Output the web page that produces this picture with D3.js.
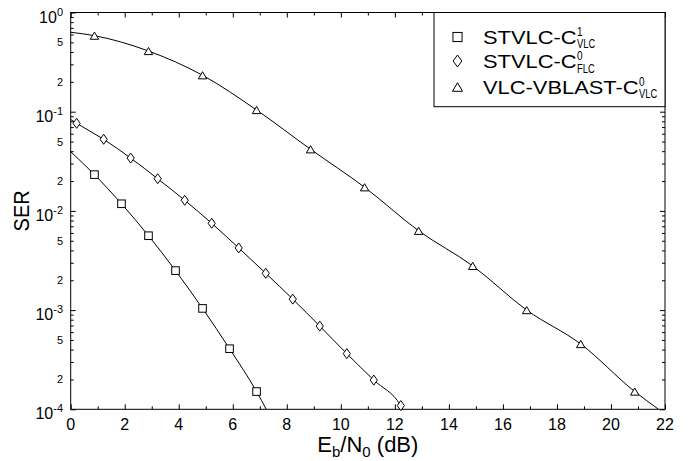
<!DOCTYPE html>
<html><head><meta charset="utf-8">
<script src="https://cdn.jsdelivr.net/npm/d3@7"></script>
<style>
body{margin:0;background:#fff}
svg{display:block}
text{font-family:"Liberation Sans",Arial,Helvetica,sans-serif;fill:#000}
</style>
</head><body>
<svg id="c" width="697" height="461"></svg>
<script>
// ---------------- data ----------------
const seriesNames = ["STVLC-C", "STVLC-C", "VLC-VBLAST-C"];
const seriesSup   = ["1", "0", "0"];
const seriesSub   = ["VLC", "FLC", "VLC"];
const seriesShape = ["square", "diamond", "triangle"];

// STVLC-C^1_VLC (squares)
const sqX = [0.88, 1.88, 2.88, 3.88, 4.88, 5.88, 6.88];
const sqY = [0.0232, 0.0118, 0.00562, 0.00250, 0.00104, 0.000408, 0.000151];
const sqStart = [0, 0.0395];
const sqEnd   = [7.24, 0.0001];

// STVLC-C^0_FLC (diamonds)
const dmX = [0.22, 1.22, 2.22, 3.22, 4.22, 5.22, 6.22, 7.22, 8.22, 9.22, 10.22, 11.22, 12.22];
const dmY = [0.0764, 0.0527, 0.0341, 0.0211, 0.0128, 0.0075, 0.00423, 0.00235, 0.00129, 0.00069, 0.000364, 0.000197, 0.000109];
const dmStart = [0, 0.0835];
const dmEnd   = [12.3, 0.0001];

// VLC-VBLAST-C^0_VLC (triangles)
const trX = [0.88, 2.88, 4.88, 6.88, 8.88, 10.88, 12.88, 14.88, 16.88, 18.88, 20.88];
const trY = [0.584, 0.409, 0.233, 0.104, 0.0418, 0.0173, 0.0063, 0.00279, 0.00100, 0.000455, 0.000151];
const trStart = [0, 0.632];
const trEnd   = [21.76, 0.0001];

const xTicks = [0, 2, 4, 6, 8, 10, 12, 14, 16, 18, 20, 22];
const xMinorTicks = [1, 3, 5, 7, 9, 11, 13, 15, 17, 19, 21];
const yDecades = [0, -1, -2, -3, -4];
const yMinorMult = [2, 3, 4, 5, 6, 7, 8, 9];
const yMinorLabels = [2, 5];
const xTitle = ["E", "b", "/N", "0", " (dB)"];
const yTitle = "SER";

// ---------------- layout ----------------
const L = 70.7, R = 665, T = 12.5, B = 409.3;
const svg = d3.select("#c");
const x = d3.scaleLinear().domain([0, 22]).range([L, R]);
const y = d3.scaleLog().domain([1e-4, 1]).range([B, T]);

const series = [
  {x: sqX, y: sqY, s: sqStart, e: sqEnd},
  {x: dmX, y: dmY, s: dmStart, e: dmEnd},
  {x: trX, y: trY, s: trStart, e: trEnd}
];

// clip
svg.append("defs").append("clipPath").attr("id", "pc")
  .append("rect").attr("x", L).attr("y", T).attr("width", R - L).attr("height", B - T);

// ticks (inward, mirrored)
const yMinorVals = [];
yDecades.slice(1).forEach(d => yMinorMult.forEach(m => yMinorVals.push(m * Math.pow(10, d))));
const yMajorVals = yDecades.map(d => Math.pow(10, d));

function styleAxis(g) {
  g.select(".domain").remove();
  g.selectAll("line").attr("stroke", "#000").attr("stroke-width", 1);
  g.selectAll("text").remove();
}
svg.append("g").attr("transform", `translate(${L},0)`).call(d3.axisLeft(y).tickValues(yMajorVals).tickSize(-5)).call(styleAxis);
svg.append("g").attr("transform", `translate(${L},0)`).call(d3.axisLeft(y).tickValues(yMinorVals).tickSize(-3)).call(styleAxis);
svg.append("g").attr("transform", `translate(${R},0)`).call(d3.axisRight(y).tickValues(yMajorVals).tickSize(-5)).call(styleAxis);
svg.append("g").attr("transform", `translate(${R},0)`).call(d3.axisRight(y).tickValues(yMinorVals).tickSize(-3)).call(styleAxis);
svg.append("g").attr("transform", `translate(0,${B})`).call(d3.axisBottom(x).tickValues(xTicks).tickSize(-5)).call(styleAxis);
svg.append("g").attr("transform", `translate(0,${B})`).call(d3.axisBottom(x).tickValues(xMinorTicks).tickSize(-3)).call(styleAxis);
svg.append("g").attr("transform", `translate(0,${T})`).call(d3.axisTop(x).tickValues(xTicks).tickSize(-5)).call(styleAxis);
svg.append("g").attr("transform", `translate(0,${T})`).call(d3.axisTop(x).tickValues(xMinorTicks).tickSize(-3)).call(styleAxis);

// frame
svg.append("rect").attr("x", L).attr("y", T).attr("width", R - L).attr("height", B - T)
  .attr("fill", "none").attr("stroke", "#000").attr("stroke-width", 1);

// y tick labels
yDecades.forEach(d => {
  const t = svg.append("text").attr("x", 63).attr("y", y(Math.pow(10, d)) + 10)
    .attr("text-anchor", "end").attr("font-size", 16).text("10");
  t.append("tspan").attr("dy", -7).attr("font-size", 11).text(String(d));
});
yDecades.slice(1).forEach(d => yMinorLabels.forEach(m => {
  svg.append("text").attr("x", 63).attr("y", y(m * Math.pow(10, d)) + 4)
    .attr("text-anchor", "end").attr("font-size", 11).text(String(m));
}));

// x tick labels
xTicks.forEach(v => {
  svg.append("text").attr("x", x(v)).attr("y", B + 21).attr("text-anchor", "middle")
    .attr("font-size", 16).text(String(v));
});

// axis titles
const xt = svg.append("text").attr("x", (L + R) / 2).attr("y", 452).attr("text-anchor", "middle").attr("font-size", 22);
xt.append("tspan").text(xTitle[0]);
xt.append("tspan").attr("dy", 5).attr("font-size", 15).text(xTitle[1]);
xt.append("tspan").attr("dy", -5).text(xTitle[2]);
xt.append("tspan").attr("dy", 5).attr("font-size", 15).text(xTitle[3]);
xt.append("tspan").attr("dy", -5).text(xTitle[4]);

svg.append("text").attr("transform", `translate(29,${(T + B) / 2}) rotate(-90) scale(1,1.12)`)
  .attr("text-anchor", "middle").attr("font-size", 20).text(yTitle);

// lines
const line = d3.line().x(d => x(d[0])).y(d => y(d[1])).curve(d3.curveMonotoneX);
const gPlot = svg.append("g").attr("clip-path", "url(#pc)");
series.forEach(s => {
  const pts = [s.s].concat(s.x.map((v, i) => [v, s.y[i]])).concat([s.e]);
  gPlot.append("path").attr("d", line(pts)).attr("fill", "none").attr("stroke", "#000").attr("stroke-width", 1);
});

// markers
function marker(g, shape, cx, cy, k) {
  k = k || 1;
  if (shape === "square") {
    const h = 3.8 * k;
    g.append("rect").attr("x", cx - h).attr("y", cy - h).attr("width", 2 * h).attr("height", 2 * h)
      .attr("fill", "#fff").attr("stroke", "#000").attr("stroke-width", 1);
  } else if (shape === "diamond") {
    const w = 3.6 * k, h = 5 * k;
    g.append("path").attr("d", `M${cx},${cy - h}L${cx + w},${cy}L${cx},${cy + h}L${cx - w},${cy}Z`)
      .attr("fill", "#fff").attr("stroke", "#000").attr("stroke-width", 1);
  } else {
    const w = 4.2 * k, h = 3.6 * k;
    g.append("path").attr("d", `M${cx},${cy - h}L${cx + w},${cy + h}L${cx - w},${cy + h}Z`)
      .attr("fill", "#fff").attr("stroke", "#000").attr("stroke-width", 1);
  }
}
series.forEach((s, si) => {
  s.x.forEach((v, i) => marker(svg, seriesShape[si], x(v), y(s.y[i])));
});

// legend
const lg = svg.append("g");
lg.append("rect").attr("x", 434).attr("y", T).attr("width", R - 434).attr("height", 106.7 - T)
  .attr("fill", "#fff").attr("stroke", "#000").attr("stroke-width", 1);
const rowY = [37, 61, 87];
const baseY = [43.5, 68, 93.5];
seriesNames.forEach((nm, i) => {
  marker(lg, seriesShape[i], 457.5, rowY[i], 1.2);
  const sx = 1.25;
  const t = lg.append("text").attr("transform", `translate(483,${baseY[i]}) scale(${sx},1)`)
    .attr("font-size", 17.5).text(nm);
  const w = t.node().getComputedTextLength() * sx;
  lg.append("text").attr("transform", `translate(${483 + w + 0.5},${baseY[i] - 8}) scale(0.8,1)`)
    .attr("font-size", 12.5).text(seriesSup[i]);
  lg.append("text").attr("transform", `translate(${483 + w + 0.5},${baseY[i] + 4.5}) scale(0.72,1)`)
    .attr("font-size", 13).text(seriesSub[i]);
});
</script>
</body></html>
